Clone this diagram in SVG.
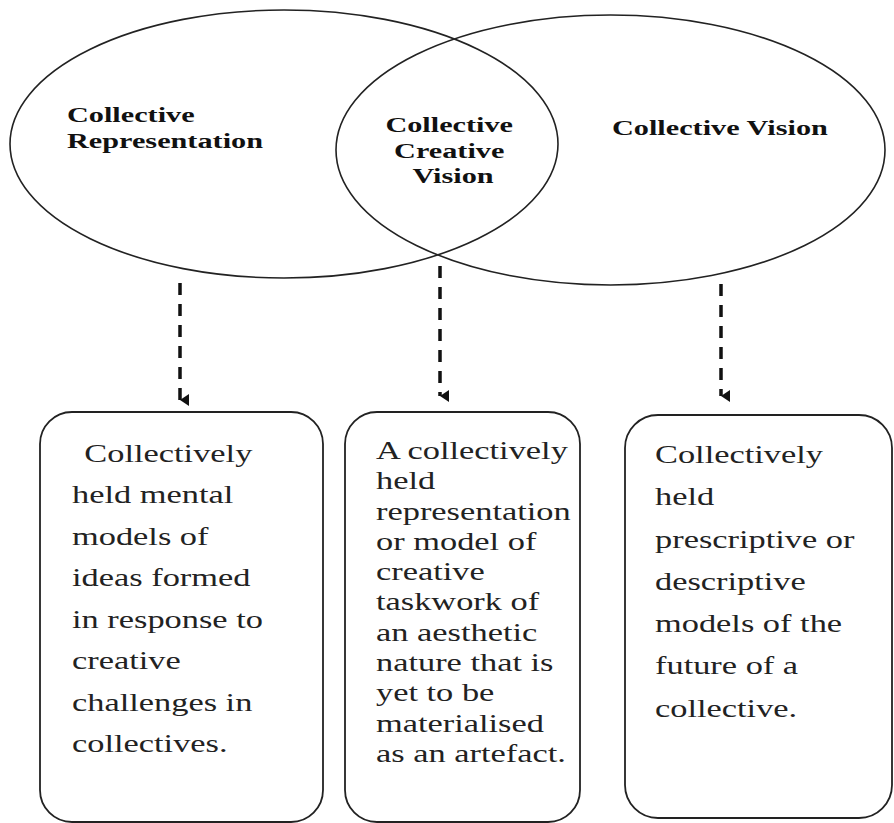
<svg xmlns="http://www.w3.org/2000/svg" width="894" height="823" viewBox="0 0 894 823">
  <defs>
    <style>
      .venn { fill: none; stroke: #222; stroke-width: 1.6; }
      .box { fill: none; stroke: #222; stroke-width: 1.8; }
      .head { font-weight: bold; font-size: 22px; fill: #111; }
      .body { font-size: 25px; fill: #222; }
      .link { stroke: #111; stroke-width: 3.5; stroke-dasharray: 12 9; fill: none; }
    </style>
    <marker id="arrow" viewBox="0 0 12 9" refX="6" refY="9" markerWidth="12" markerHeight="9" markerUnits="userSpaceOnUse" orient="auto-start-reverse">
      <path d="M0,0 L12,0 L6,9 Z" fill="#111"/>
    </marker>
  </defs>

  <rect width="894" height="823" fill="#fff"/>

  <!-- Venn ellipses and their titles -->
  <g id="collective-representation">
    <ellipse class="venn" cx="284" cy="144" rx="274" ry="134"/>
    <text class="head" font-family="Liberation Serif, serif" transform="translate(67 0) scale(1.375 1)">
      <tspan x="0" y="122">Collective</tspan>
      <tspan x="0" y="148">Representation</tspan>
    </text>
  </g>

  <g id="collective-vision">
    <ellipse class="venn" cx="610.5" cy="150" rx="274.5" ry="135"/>
    <text class="head" font-family="Liberation Serif, serif" transform="translate(612 0) scale(1.375 1)">
      <tspan x="0" y="135">Collective Vision</tspan>
    </text>
  </g>

  <g id="collective-creative-vision">
    <text class="head" font-family="Liberation Serif, serif" text-anchor="middle" transform="translate(453 0) scale(1.375 1)">
      <tspan x="0" y="132">Collective</tspan>
      <tspan x="0" y="158">Creative</tspan>
      <tspan x="0" y="183">Vision</tspan>
    </text>
  </g>

  <!-- Dashed connectors -->
  <g id="connectors">
    <line class="link" x1="180" y1="283" x2="180" y2="400" marker-end="url(#arrow)"/>
    <line class="link" x1="440" y1="266" x2="440" y2="396" marker-end="url(#arrow)"/>
    <line class="link" x1="721" y1="284" x2="721" y2="396" marker-end="url(#arrow)"/>
  </g>

  <!-- Definition boxes -->
  <g id="box-representation">
    <rect class="box" x="40" y="412" width="283" height="410" rx="32" ry="32"/>
    <text class="body" font-family="Liberation Serif, serif" transform="translate(72 0) scale(1.375 1)">
      <tspan x="9" y="462">Collectively</tspan>
      <tspan x="0" y="503.5">held mental</tspan>
      <tspan x="0" y="545">models of</tspan>
      <tspan x="0" y="586.5">ideas formed</tspan>
      <tspan x="0" y="628">in response to</tspan>
      <tspan x="0" y="669.5">creative</tspan>
      <tspan x="0" y="711">challenges in</tspan>
      <tspan x="0" y="752.5">collectives.</tspan>
    </text>
  </g>

  <g id="box-creative-vision">
    <rect class="box" x="345" y="412" width="235" height="410" rx="32" ry="32"/>
    <text class="body" font-family="Liberation Serif, serif" transform="translate(376 0) scale(1.375 1)">
      <tspan x="0" y="459">A collectively</tspan>
      <tspan x="0" y="489.3">held</tspan>
      <tspan x="0" y="519.6">representation</tspan>
      <tspan x="0" y="549.9">or model of</tspan>
      <tspan x="0" y="580.2">creative</tspan>
      <tspan x="0" y="610.5">taskwork of</tspan>
      <tspan x="0" y="640.8">an aesthetic</tspan>
      <tspan x="0" y="671.1">nature that is</tspan>
      <tspan x="0" y="701.4">yet to be</tspan>
      <tspan x="0" y="731.7">materialised</tspan>
      <tspan x="0" y="762">as an artefact.</tspan>
    </text>
  </g>

  <g id="box-vision">
    <rect class="box" x="625" y="415" width="267" height="403" rx="33" ry="33"/>
    <text class="body" font-family="Liberation Serif, serif" transform="translate(655 0) scale(1.375 1)">
      <tspan x="0" y="463">Collectively</tspan>
      <tspan x="0" y="505.3">held</tspan>
      <tspan x="0" y="547.6">prescriptive or</tspan>
      <tspan x="0" y="589.9">descriptive</tspan>
      <tspan x="0" y="632.2">models of the</tspan>
      <tspan x="0" y="674.5">future of a</tspan>
      <tspan x="0" y="716.8">collective.</tspan>
    </text>
  </g>
</svg>
